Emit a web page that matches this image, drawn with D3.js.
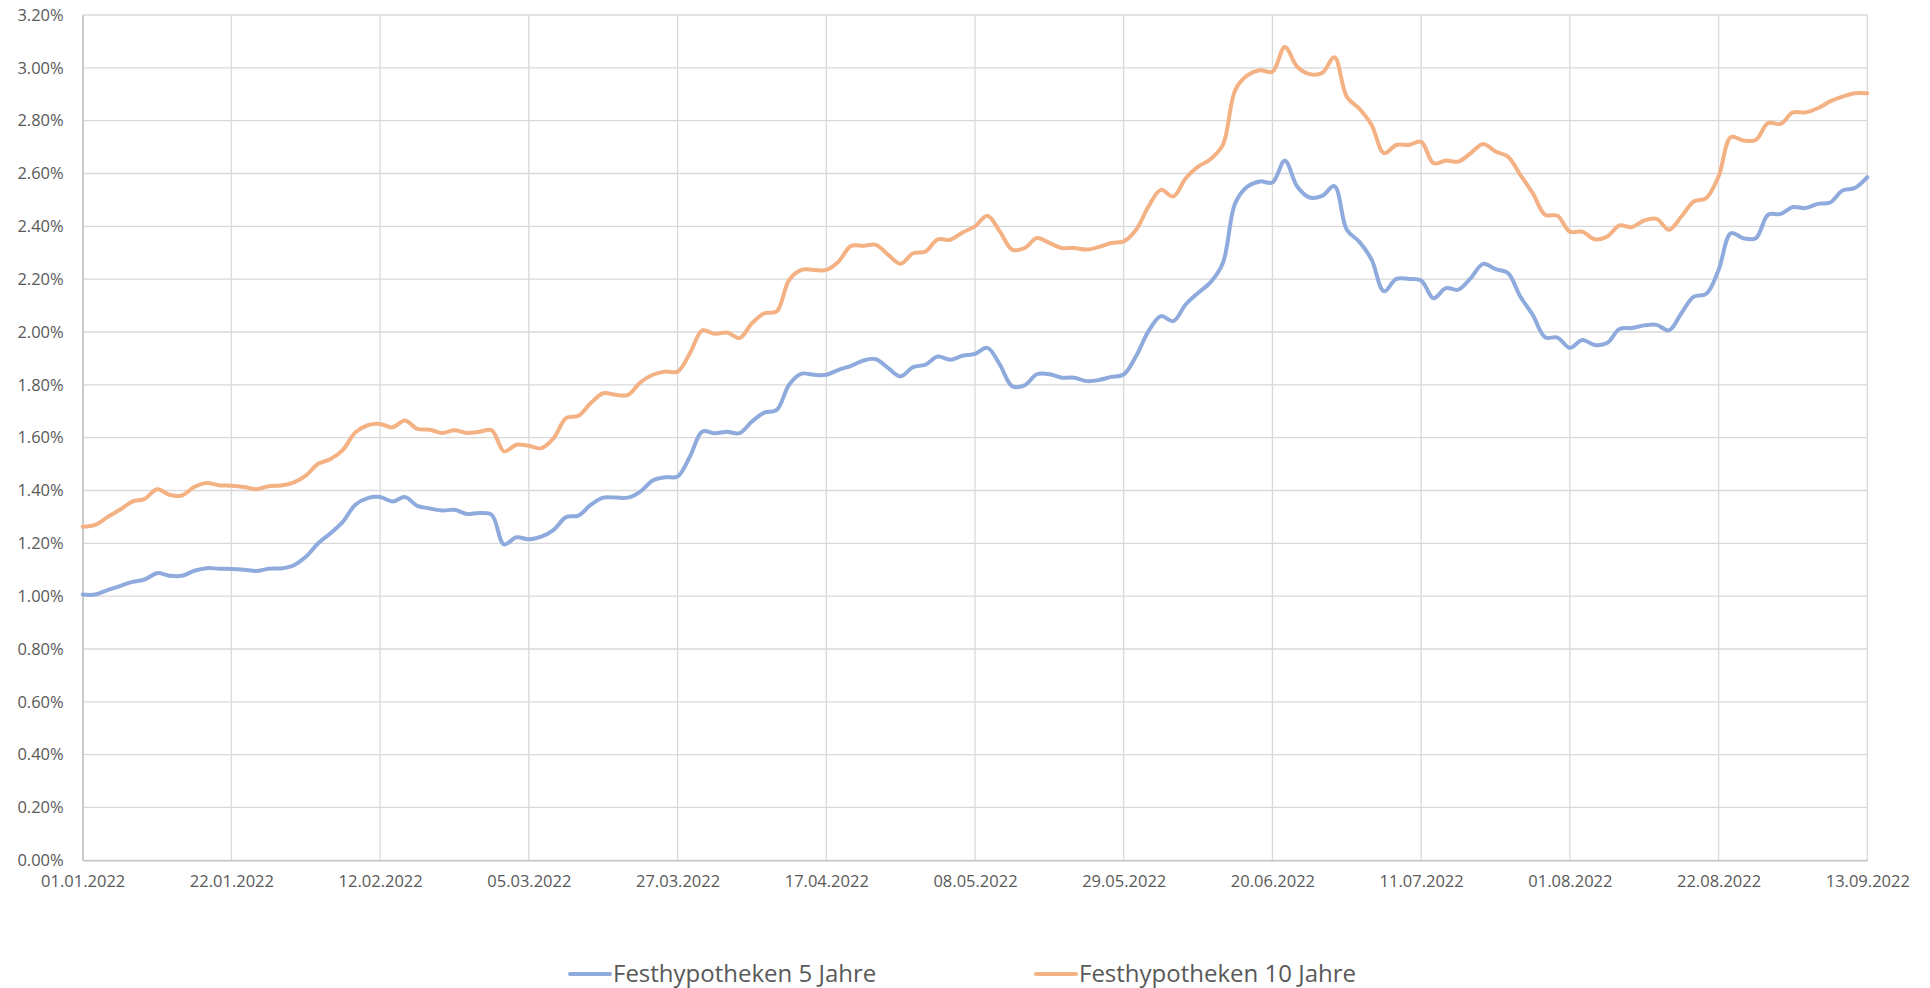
<!DOCTYPE html>
<html>
<head>
<meta charset="utf-8">
<script src="https://cdn.jsdelivr.net/npm/d3@7"></script>
<style>
  html, body { margin: 0; padding: 0; background: #fff; }
  svg text { font-family: "Open Sans", "Noto Sans", sans-serif; fill: #595959; }
</style>
</head>
<body>
<svg id="chart" width="1930" height="988"></svg>
<script>
// tick labels on the category axis, one every 12 samples
var dateLabels = ['01.01.2022', '22.01.2022', '12.02.2022', '05.03.2022', '27.03.2022',
  '17.04.2022', '08.05.2022', '29.05.2022', '20.06.2022', '11.07.2022', '01.08.2022',
  '22.08.2022', '13.09.2022'];

var seriesNames = ['Festhypotheken 5 Jahre', 'Festhypotheken 10 Jahre'];

// rates in %, sampled 12 times per label interval
var rate5 = [
  1.006, 1.006, 1.023, 1.038, 1.054, 1.063, 1.087, 1.077, 1.077, 1.096, 1.106, 1.104,
  1.103, 1.100, 1.095, 1.104, 1.105, 1.116, 1.149, 1.200, 1.238, 1.282, 1.346, 1.371,
  1.375, 1.358, 1.375, 1.342, 1.332, 1.324, 1.327, 1.311, 1.315, 1.308, 1.196, 1.223,
  1.215, 1.225, 1.251, 1.299, 1.305, 1.346, 1.373, 1.373, 1.373, 1.396, 1.438, 1.450,
  1.453, 1.529, 1.623, 1.617, 1.622, 1.617, 1.661, 1.695, 1.705, 1.800, 1.842, 1.838,
  1.838, 1.857, 1.872, 1.892, 1.897, 1.863, 1.832, 1.867, 1.876, 1.907, 1.895, 1.910,
  1.917, 1.940, 1.877, 1.795, 1.798, 1.840, 1.840, 1.827, 1.827, 1.814, 1.818, 1.830,
  1.839, 1.909, 2.003, 2.060, 2.041, 2.104, 2.148, 2.188, 2.261, 2.488, 2.551, 2.570,
  2.566, 2.648, 2.551, 2.509, 2.515, 2.552, 2.387, 2.342, 2.274, 2.154, 2.201, 2.201,
  2.195, 2.128, 2.166, 2.160, 2.204, 2.258, 2.238, 2.223, 2.134, 2.065, 1.980, 1.979,
  1.940, 1.970, 1.951, 1.958, 2.011, 2.015, 2.025, 2.027, 2.006, 2.071, 2.134, 2.144,
  2.235, 2.374, 2.355, 2.355, 2.444, 2.447, 2.473, 2.469, 2.485, 2.490, 2.536, 2.545, 2.586
];

var rate10 = [
  1.263, 1.270, 1.299, 1.327, 1.358, 1.368, 1.405, 1.384, 1.381, 1.413, 1.428, 1.420,
  1.418, 1.413, 1.405, 1.416, 1.419, 1.430, 1.456, 1.501, 1.519, 1.554, 1.620, 1.647,
  1.652, 1.639, 1.665, 1.633, 1.630, 1.618, 1.628, 1.618, 1.622, 1.628, 1.548, 1.573,
  1.569, 1.560, 1.598, 1.674, 1.683, 1.731, 1.768, 1.762, 1.762, 1.809, 1.838, 1.850,
  1.850, 1.920, 2.006, 1.993, 1.998, 1.977, 2.033, 2.071, 2.078, 2.197, 2.235, 2.235,
  2.235, 2.267, 2.326, 2.326, 2.330, 2.292, 2.258, 2.298, 2.305, 2.351, 2.349, 2.377,
  2.400, 2.440, 2.381, 2.312, 2.318, 2.356, 2.337, 2.318, 2.318, 2.312, 2.322, 2.337,
  2.343, 2.387, 2.475, 2.538, 2.513, 2.582, 2.626, 2.654, 2.708, 2.916, 2.972, 2.991,
  2.985, 3.079, 3.004, 2.976, 2.980, 3.040, 2.890, 2.846, 2.784, 2.677, 2.708, 2.708,
  2.720, 2.639, 2.649, 2.645, 2.677, 2.712, 2.683, 2.664, 2.595, 2.526, 2.444, 2.440,
  2.380, 2.380, 2.351, 2.361, 2.403, 2.397, 2.422, 2.428, 2.387, 2.437, 2.494, 2.507,
  2.589, 2.738, 2.725, 2.727, 2.791, 2.788, 2.831, 2.831, 2.847, 2.873, 2.891, 2.904, 2.904
];

var yTicks = d3.range(0, 3.2001, 0.2);

var colors = ['#8faadc', '#f4b183'];
var perLabel = 12;

var margin = {left: 82.7, right: 1930 - 1867.3, top: 15, bottom: 988 - 860.3};
var svg = d3.select('#chart');
var width = 1930 - margin.left - margin.right;
var height = 988 - margin.top - margin.bottom;

var g = svg.append('g')
  .attr('transform', 'translate(' + margin.left + ',' + margin.top + ')');

var x = d3.scaleLinear()
  .domain([0, rate5.length - 1])
  .range([0, width]);

var y = d3.scaleLinear()
  .domain([0, 3.2])
  .range([height, 0]);

// gridlines
g.append('g').selectAll('line.hgrid')
  .data(yTicks)
  .enter().append('line')
  .attr('class', 'hgrid')
  .attr('x1', 0).attr('x2', width)
  .attr('y1', function(d) { return y(d); })
  .attr('y2', function(d) { return y(d); })
  .attr('stroke', '#d9d9d9')
  .attr('stroke-width', 1.3);

var xTickVals = dateLabels.map(function(d, i) { return i * perLabel; });

g.append('g').selectAll('line.vgrid')
  .data(xTickVals)
  .enter().append('line')
  .attr('class', 'vgrid')
  .attr('x1', function(d) { return x(d); })
  .attr('x2', function(d) { return x(d); })
  .attr('y1', 0).attr('y2', height)
  .attr('stroke', '#d9d9d9')
  .attr('stroke-width', 1.3);

// axes
var yAxis = d3.axisLeft(y)
  .tickValues(yTicks)
  .tickSize(0)
  .tickPadding(19)
  .tickFormat(function(d) { return d3.format('.2f')(d) + '%'; });

var xAxis = d3.axisBottom(x)
  .tickValues(xTickVals)
  .tickSize(0)
  .tickPadding(15)
  .tickFormat(function(d) { return dateLabels[d / perLabel]; });

var yg = g.append('g').call(yAxis);
var xg = g.append('g').attr('transform', 'translate(0,' + height + ')').call(xAxis);

[yg, xg].forEach(function(ax) {
  ax.select('.domain').attr('stroke', '#bfbfbf').attr('stroke-width', 1.3);
  ax.selectAll('text').style('font-size', '16.5px').attr('fill', '#595959');
});

// lines
var line = d3.line()
  .x(function(d, i) { return x(i); })
  .y(function(d) { return y(d); })
  .curve(d3.curveCatmullRom.alpha(0.5));

[rate5, rate10].forEach(function(values, i) {
  g.append('path')
    .datum(values)
    .attr('fill', 'none')
    .attr('stroke', colors[i])
    .attr('stroke-width', 4)
    .attr('stroke-linejoin', 'round')
    .attr('stroke-linecap', 'round')
    .attr('d', line);
});

// legend
var legendX = [570, 1036];
var legend = svg.append('g').attr('transform', 'translate(0,974)');
seriesNames.forEach(function(name, i) {
  legend.append('line')
    .attr('x1', legendX[i]).attr('x2', legendX[i] + 40)
    .attr('y1', 0).attr('y2', 0)
    .attr('stroke', colors[i])
    .attr('stroke-width', 4)
    .attr('stroke-linecap', 'round');
  legend.append('text')
    .attr('x', legendX[i] + 43)
    .attr('y', 0)
    .attr('dy', '0.35em')
    .style('font-size', '24px')
    .text(name);
});
</script>
</body>
</html>
